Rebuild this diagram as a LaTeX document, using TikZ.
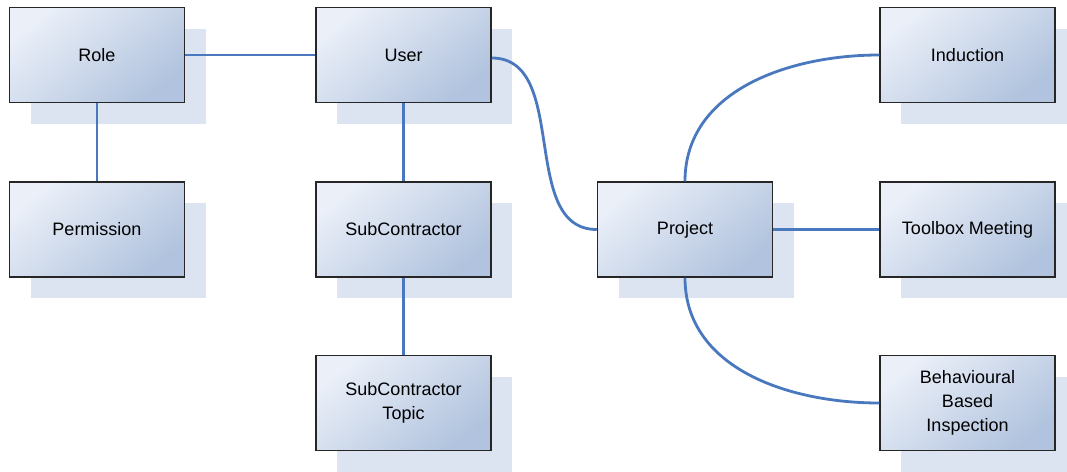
\documentclass[tikz,border=0pt]{standalone}
\usepackage{fontspec}
\setmainfont{Liberation Sans}
\usetikzlibrary{positioning,shadows}
\definecolor{boxlight}{HTML}{EAEFF8}
\definecolor{boxdark}{HTML}{B1C3DE}
\definecolor{shadowblue}{HTML}{DCE4F1}
\definecolor{linkblue}{HTML}{4A78BE}
\definecolor{boxedge}{HTML}{262626}
\tikzset{
  entity/.style={draw=boxedge,line width=1.5pt,minimum width=175pt,minimum height=95pt,
    align=center,inner sep=2pt,top color=boxlight,bottom color=boxdark,shading angle=40,
    font=\fontsize{18}{24}\selectfont,
    drop shadow={shadow xshift=21pt,shadow yshift=-21pt,fill=shadowblue,opacity=1,draw=none}},
  link/.style={draw=linkblue,line width=2.8pt}
}
\begin{document}
\begin{tikzpicture}[node distance=78pt and 130pt]
\useasboundingbox (0,0) rectangle (1067pt,-471pt);
\node[entity] (role) at (97pt,-55pt) {Role};
\node[entity] (user) [right=of role] {User};
\node[entity] (permission) [below=of role] {Permission};
\node[entity] (subcontractor) [below=of user] {SubContractor};
\node[entity] (topic) [below=77pt of subcontractor] {SubContractor\\Topic};
\node[entity] (project) [right=105pt of subcontractor] {Project};
\node[entity] (toolbox) [right=106pt of project] {Toolbox Meeting};
\node[entity] (induction) [above=of toolbox] {Induction};
\node[entity] (inspection) [below=77pt of toolbox] {Behavioural\\Based\\Inspection};
\draw[link] (role) -- (user);
\draw[link] (role) -- (permission);
\draw[link] (user) -- (subcontractor);
\draw[link] (subcontractor) -- (topic);
\draw[link] ([yshift=-3pt]user.east) to[out=0,in=180] (project.west);
\draw[link] (project) -- (toolbox);
\draw[link] (project.north) to[out=90,in=180] (induction.west);
\draw[link] (project.south) to[out=-90,in=180] (inspection.west);
\end{tikzpicture}
\end{document}
